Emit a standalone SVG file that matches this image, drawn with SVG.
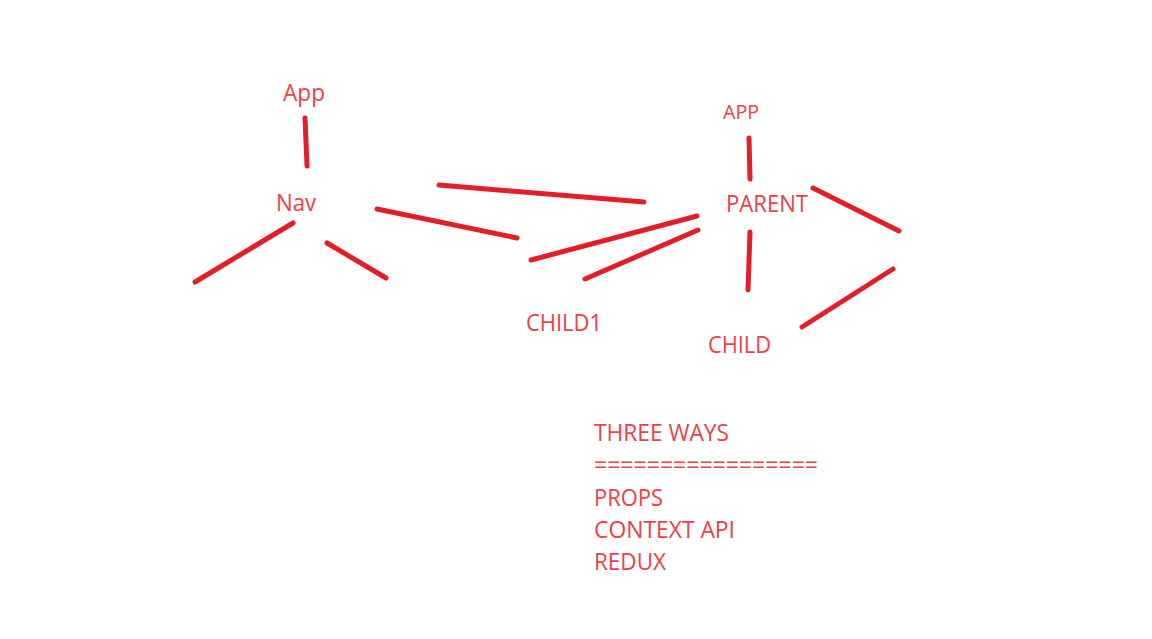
<svg xmlns="http://www.w3.org/2000/svg" width="1152" height="639" viewBox="0 0 1152 639">
<style>
.t{font-family:"Open Sans","Noto Sans","Liberation Sans",sans-serif;font-size:24px;fill:#E8424C}
.s{font-size:20px}
.c line{stroke:#E41E26;stroke-width:5;stroke-linecap:round}
</style>
<rect width="1152" height="639" fill="#fff"/>
<g class="c" id="connectors">
<line x1="305" y1="118" x2="307" y2="166"/>
<line x1="293" y1="223" x2="195" y2="282"/>
<line x1="327" y1="243" x2="386" y2="278"/>
<line x1="377" y1="209" x2="517" y2="238"/>
<line x1="439" y1="185" x2="644" y2="202"/>
<line x1="531" y1="260" x2="697" y2="216"/>
<line x1="585" y1="279" x2="698" y2="230"/>
<line x1="749" y1="138" x2="750" y2="179"/>
<line x1="750" y1="232" x2="748" y2="290"/>
<line x1="813" y1="188" x2="899" y2="231"/>
<line x1="802" y1="327" x2="893" y2="269"/>
</g>
<g id="app1"><text class="t" x="283" y="101" textLength="42" lengthAdjust="spacingAndGlyphs">App</text></g>
<g id="nav"><text class="t" x="276" y="211" textLength="40" lengthAdjust="spacingAndGlyphs">Nav</text></g>
<g id="app2"><text class="t s" x="723" y="119" textLength="36" lengthAdjust="spacingAndGlyphs">APP</text></g>
<g id="parent"><text class="t" x="726" y="211.5" textLength="82" lengthAdjust="spacingAndGlyphs">PARENT</text></g>
<g id="child1"><text class="t" x="526" y="330.5" textLength="76" lengthAdjust="spacingAndGlyphs">CHILD1</text></g>
<g id="child"><text class="t" x="708" y="353" textLength="63" lengthAdjust="spacingAndGlyphs">CHILD</text></g>
<g id="notes">
<text class="t" x="594" y="441" textLength="135" lengthAdjust="spacingAndGlyphs">THREE WAYS</text>
<text class="t" x="594" y="473" textLength="224" lengthAdjust="spacingAndGlyphs">=================</text>
<text class="t" x="594" y="506" textLength="69" lengthAdjust="spacingAndGlyphs">PROPS</text>
<text class="t" x="594" y="538" textLength="141" lengthAdjust="spacingAndGlyphs">CONTEXT API</text>
<text class="t" x="594" y="570" textLength="72" lengthAdjust="spacingAndGlyphs">REDUX</text>
</g>
</svg>
